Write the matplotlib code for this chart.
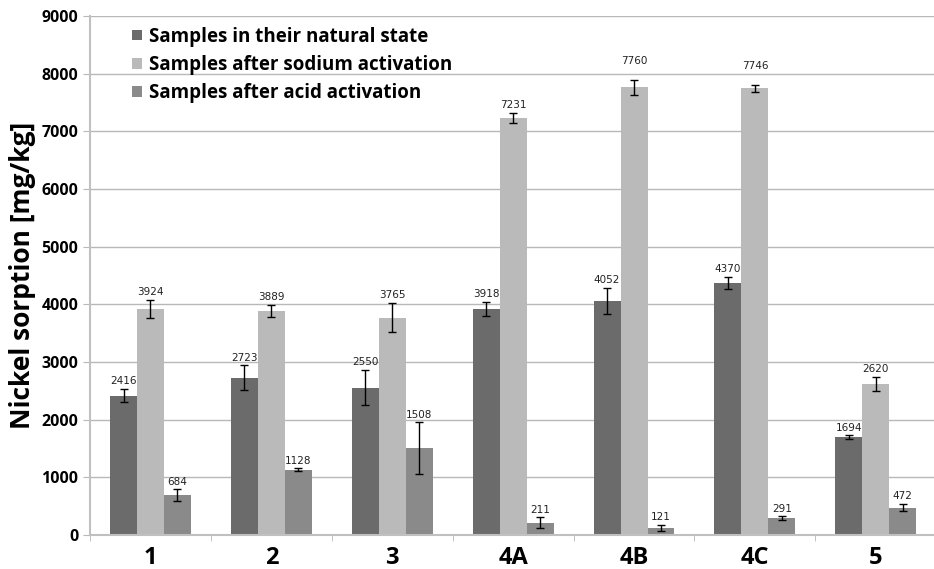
import matplotlib
matplotlib.use('Agg')
import matplotlib.pyplot as plt
import numpy as np

plt.rcParams['font.family'] = ['Open Sans', 'DejaVu Sans']

samples = ['1', '2', '3', '4A', '4B', '4C', '5']
natural = [2416, 2723, 2550, 3918, 4052, 4370, 1694]
sodium = [3924, 3889, 3765, 7231, 7760, 7746, 2620]
acid = [684, 1128, 1508, 211, 121, 291, 472]
natural_err = [112, 216, 306, 127, 225, 98, 32]
sodium_err = [156, 104, 254, 92, 127, 61, 118]
acid_err = [104, 26, 444, 92, 58, 29, 63]

series = [
    ('Samples in their natural state', natural, natural_err, '#6b6b6b'),
    ('Samples after sodium activation', sodium, sodium_err, '#bababa'),
    ('Samples after acid activation', acid, acid_err, '#8a8a8a'),
]

fig = plt.figure(figsize=(9.34, 5.69), dpi=100)
ax = fig.add_axes([0.0964, 0.06, 0.906, 0.912])

x = np.arange(len(samples))
w = 0.223
for i, (name, vals, errs, col) in enumerate(series):
    pos = x + (i - 1) * w
    ax.bar(pos, vals, w, color=col, label=name, zorder=2,
           yerr=errs, capsize=3,
           error_kw=dict(elinewidth=1, ecolor='black', capthick=1))
    for p, v, e in zip(pos, vals, errs):
        extra = 10 if v > 7500 else 2
        ax.annotate(str(v), (p, v + e), xytext=(0, extra),
                    textcoords='offset points', ha='center', va='bottom',
                    fontsize=7.5, family='DejaVu Sans', color='#222222')

ax.set_ylim(0, 9000)
ax.set_xlim(-0.5, 6.5)
ax.set_yticks(range(0, 9001, 1000))
ax.yaxis.grid(True, color='#b8b8b8', linewidth=1, zorder=0)
ax.set_axisbelow(True)

ax.set_xticks(x)
ax.set_xticklabels(samples, fontsize=17, fontweight='bold')
ax.set_xticks(np.arange(-0.5, 7, 1), minor=True)
ax.tick_params(axis='x', which='major', length=0, pad=8)
ax.tick_params(axis='x', which='minor', length=4, color='#b8b8b8')
ax.tick_params(axis='y', length=5, color='#b8b8b8', labelsize=11.5)
for lab in ax.get_yticklabels():
    lab.set_fontweight('bold')

ax.set_ylabel('Nickel sorption [mg/kg]', fontsize=19, fontweight='bold', labelpad=4)

for s in ['top', 'right']:
    ax.spines[s].set_visible(False)
ax.spines['left'].set_color('#c0c0c0')
ax.spines['left'].set_linewidth(1.5)
ax.spines['bottom'].set_color('#c0c0c0')
ax.spines['bottom'].set_linewidth(1.5)

ax.legend(loc='upper left', bbox_to_anchor=(0.03, 1.012), frameon=False,
          prop=dict(weight='bold', size=13.5), handlelength=0.5, handleheight=0.5,
          handletextpad=0.4, labelspacing=0.45)

fig.savefig('out.png', dpi=100)
